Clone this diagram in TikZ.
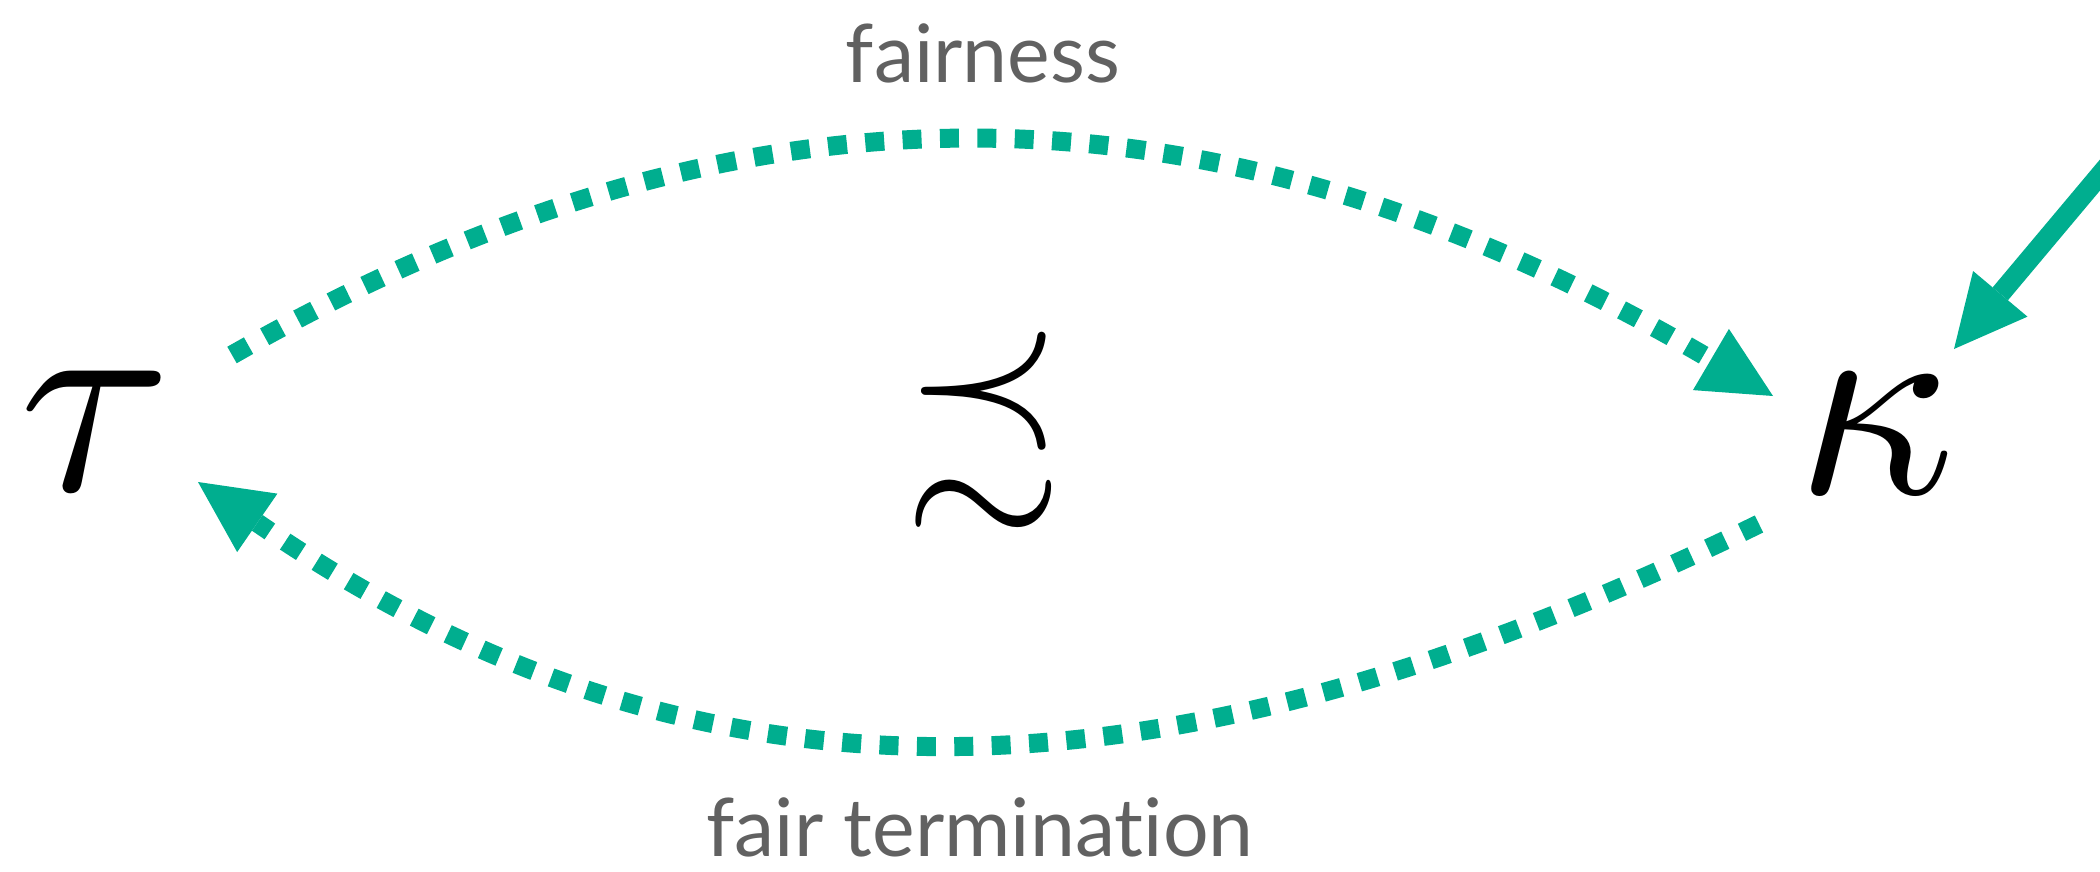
\documentclass[tikz,border=0pt]{standalone}
\usepackage{amssymb}
\usepackage{fontspec}
\newfontfamily\labfont[Ligatures={NoCommon,NoContextual}]{Lato}
\usetikzlibrary{arrows.meta}
\definecolor{arcgreen}{HTML}{00AE8F}
\definecolor{labgrey}{HTML}{616161}
\tikzset{
  glyph/.style={inner sep=0pt, outer sep=0pt, text=black},
  lab/.style={inner sep=0pt, anchor=base, text=labgrey, font=\labfont\fontsize{40.3}{41}\selectfont},
  tiphead/.style={-{Triangle[length=36pt,width=35.5pt,line width=0pt]}},
  dotarc/.style={draw=arcgreen, line width=9.5pt, dash pattern=on 9.5pt off 9.2pt, tiphead},
  solidarr/.style={draw=arcgreen, line width=10pt, tiphead}
}
\begin{document}
\begin{tikzpicture}[x=0.5pt,y=-0.5pt]
\useasboundingbox (0,0) rectangle (2100,872);
\node[glyph, scale=13.85] (tau) at (96,431) {$\tau$};
\node[glyph, scale=13.85] (kappa) at (1876,434) {$\kappa$};
\node[glyph, scale=10.2] (rel) at (984,430) {$\precsim$};
\node[lab] (fair) at (983,83) {fairness};
\node[lab] (fairterm) at (980,856) {fair termination};
\coordinate (ext) at (2147,119);
\draw[dotarc] ([shift={(136,-76)}]tau.center) .. controls (740,65) and (1210,65) .. ([shift={(-103,-38)}]kappa.center);
\draw[dotarc] ([shift={(-117,90)}]kappa.center) .. controls (1150,821) and (690,821) .. ([shift={(102,51)}]tau.center);
\draw[solidarr] (ext) -- ([shift={(78,-85)}]kappa.center);
\end{tikzpicture}
\end{document}
